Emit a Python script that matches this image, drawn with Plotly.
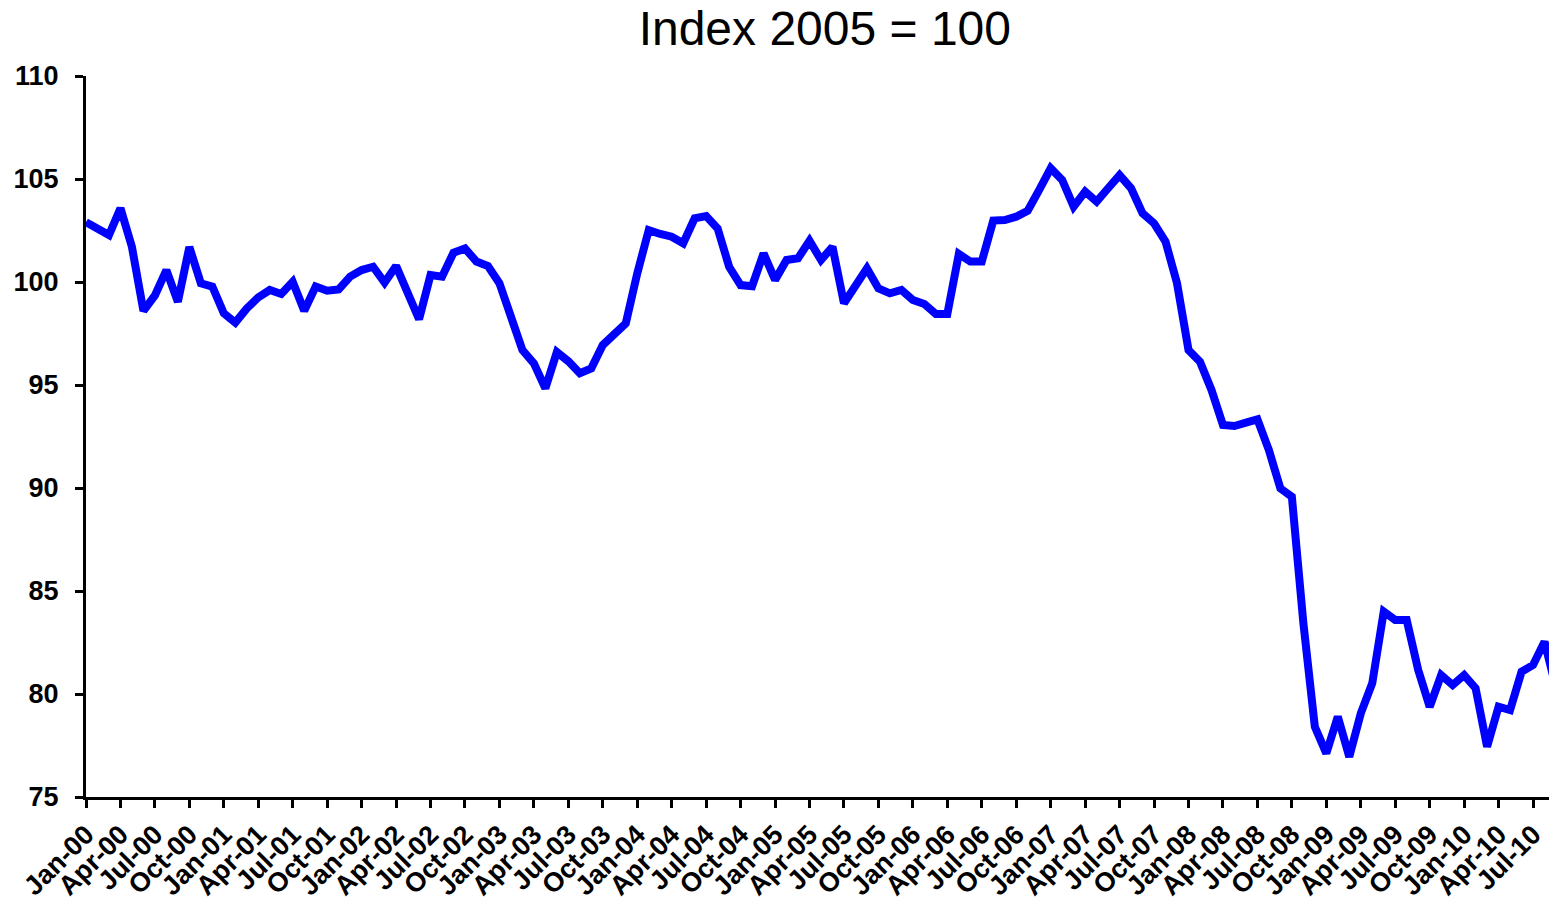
import plotly.graph_objects as go

# Monthly categories Jan-00 .. Sep-10
month_names = ["Jan", "Feb", "Mar", "Apr", "May", "Jun",
               "Jul", "Aug", "Sep", "Oct", "Nov", "Dec"]
years = ["00", "01", "02", "03", "04", "05", "06", "07", "08", "09", "10"]
months = [f"{m}-{y}" for y in years for m in month_names][:129]

# Index values (2005 = 100)
index_values = [
    102.9, 102.55, 102.28, 103.58, 101.7, 98.6, 99.35, 100.58, 99.04, 101.7, 99.94, 99.78,
    98.48, 98.03, 98.72, 99.25, 99.61, 99.42, 100.01, 98.6, 99.78, 99.58, 99.64, 100.26,
    100.58, 100.74, 99.97, 100.78, 99.45, 98.19, 100.34, 100.26, 101.42, 101.63, 100.99, 100.78,
    99.94, 98.4, 96.7, 96.05, 94.84, 96.6, 96.15, 95.57, 95.81, 96.94, 97.51, 97.99,
    100.42, 102.52, 102.33, 102.2, 101.88, 103.09, 103.2, 102.6, 100.74, 99.85, 99.8, 101.39,
    100.1, 101.07, 101.15, 102.0, 101.07, 101.71, 98.97, 99.85, 100.66, 99.69, 99.45, 99.61,
    99.13, 98.93, 98.45, 98.45, 101.36, 100.99, 100.99, 102.98, 103.01, 103.17, 103.46, 104.47,
    105.52, 104.95, 103.66, 104.39, 103.9, 104.55, 105.19, 104.55, 103.33, 102.85, 101.96, 99.94,
    96.7, 96.13, 94.76, 93.06, 93.01, 93.17, 93.33, 91.84, 89.98, 89.58, 83.45, 78.41,
    77.12, 78.9, 76.95, 79.06, 80.52, 84.0, 83.59, 83.59, 81.17, 79.38, 80.92, 80.44,
    80.92, 80.28, 77.44, 79.38, 79.22, 81.08, 81.41, 82.54, 80.3,
]

# Quarterly tick labels
tick_labels = [
    "Jan-00", "Apr-00", "Jul-00", "Oct-00", "Jan-01", "Apr-01", "Jul-01", "Oct-01",
    "Jan-02", "Apr-02", "Jul-02", "Oct-02", "Jan-03", "Apr-03", "Jul-03", "Oct-03",
    "Jan-04", "Apr-04", "Jul-04", "Oct-04", "Jan-05", "Apr-05", "Jul-05", "Oct-05",
    "Jan-06", "Apr-06", "Jul-06", "Oct-06", "Jan-07", "Apr-07", "Jul-07", "Oct-07",
    "Jan-08", "Apr-08", "Jul-08", "Oct-08", "Jan-09", "Apr-09", "Jul-09", "Oct-09",
    "Jan-10", "Apr-10", "Jul-10",
]

FONT = "Arial, 'Liberation Sans', sans-serif"

fig = go.Figure()
fig.add_trace(go.Scatter(
    x=months, y=index_values, mode="lines",
    line=dict(color="#0000FF", width=8),
    showlegend=False, hoverinfo="x+y",
))

fig.update_layout(
    width=1549, height=911,
    margin=dict(l=86, r=0, t=76, b=114, pad=0),
    plot_bgcolor="white", paper_bgcolor="white",
    title=dict(
        text="Index 2005 = 100",
        font=dict(family=FONT, size=48, color="black"),
        x=0.505, xref="paper", xanchor="center",
        y=1 - 28 / 911, yref="container", yanchor="middle",
    ),
)

fig.update_xaxes(
    type="category",
    range=[0, 127.39],
    tickmode="array", tickvals=tick_labels, ticktext=tick_labels,
    tickangle=-45,
    tickfont=dict(family=FONT, size=27, color="black", weight="bold"),
    ticks="outside", ticklen=8, tickwidth=3, tickcolor="black",
    showline=True, linecolor="black", linewidth=3,
    showgrid=False, zeroline=False,
)

fig.update_yaxes(
    range=[75, 110], dtick=5, tick0=75,
    tickfont=dict(family=FONT, size=27, color="black", weight="bold"),
    ticks="outside", ticklen=8, tickwidth=3, tickcolor="black",
    ticklabelstandoff=11,
    showline=True, linecolor="black", linewidth=3,
    showgrid=False, zeroline=False,
)

fig.write_html(
    "out.html",
    config={"displayModeBar": False},
    post_script="document.body.style.margin='0';document.body.style.overflow='hidden';",
)
